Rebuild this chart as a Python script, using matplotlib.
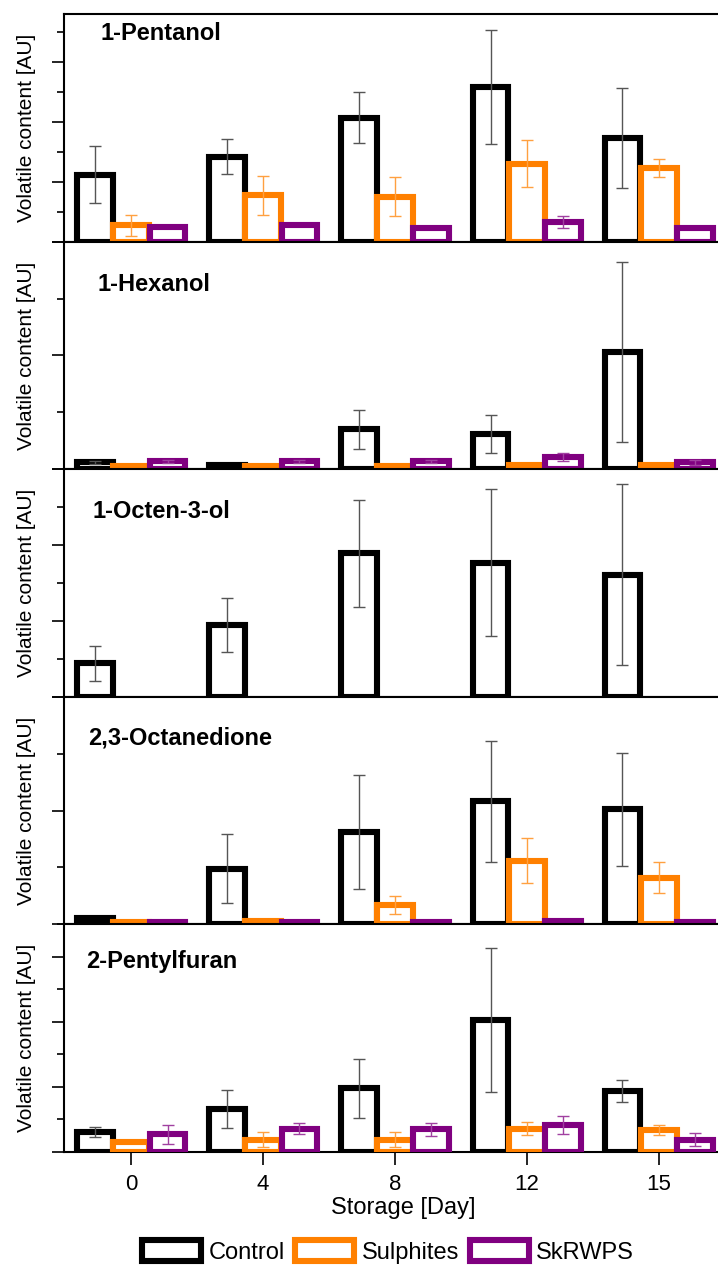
import numpy as np
import matplotlib.pyplot as plt
from matplotlib.ticker import MultipleLocator, FixedLocator

plt.rcParams['font.family'] = ['Liberation Sans', 'DejaVu Sans']

days = ["0", "4", "8", "12", "15"]
treatments = ["Control", "Sulphites", "SkRWPS"]
compounds = ["1-Pentanol", "1-Hexanol", "1-Octen-3-ol", "2,3-Octanedione", "2-Pentylfuran"]

# values in arbitrary units (one major y tick = 1), rows: Control, Sulphites, SkRWPS
pentanol_mean = [[1.12, 1.42, 2.07, 2.58, 1.73],
                 [0.27, 0.77, 0.75, 1.30, 1.23],
                 [0.25, 0.27, 0.22, 0.33, 0.22]]
pentanol_err = [[0.48, 0.29, 0.42, 0.95, 0.83],
                [0.17, 0.33, 0.33, 0.39, 0.15],
                [0.0, 0.0, 0.0, 0.10, 0.0]]

hexanol_mean = [[0.06, 0.035, 0.35, 0.31, 1.03],
                [0.025, 0.025, 0.025, 0.04, 0.035],
                [0.07, 0.07, 0.07, 0.11, 0.06]]
hexanol_err = [[0.01, 0.0, 0.17, 0.17, 0.79],
               [0.0, 0.0, 0.0, 0.0, 0.0],
               [0.015, 0.015, 0.015, 0.035, 0.02]]

octenol_mean = [[0.44, 0.95, 1.89, 1.77, 1.61],
                [np.nan] * 5,
                [np.nan] * 5]
octenol_err = [[0.23, 0.355, 0.71, 0.97, 1.19],
               [np.nan] * 5,
               [np.nan] * 5]

octanedione_mean = [[0.06, 0.49, 0.81, 1.08, 1.01],
                    [0.02, 0.03, 0.17, 0.56, 0.41],
                    [0.02, 0.02, 0.02, 0.03, 0.02]]
octanedione_err = [[0.0, 0.30, 0.50, 0.53, 0.50],
                   [0.0, 0.0, 0.08, 0.20, 0.135],
                   [0.0, 0.0, 0.0, 0.0, 0.0]]

pentylfuran_mean = [[0.31, 0.66, 0.98, 2.03, 0.94],
                    [0.16, 0.19, 0.19, 0.36, 0.34],
                    [0.27, 0.36, 0.35, 0.42, 0.19]]
pentylfuran_err = [[0.08, 0.29, 0.45, 1.10, 0.17],
                   [0.0, 0.115, 0.115, 0.10, 0.08],
                   [0.14, 0.09, 0.10, 0.14, 0.10]]

means = [pentanol_mean, hexanol_mean, octenol_mean, octanedione_mean, pentylfuran_mean]
errs = [pentanol_err, hexanol_err, octenol_err, octanedione_err, pentylfuran_err]
ytops = [3.8, 2.0, 3.0, 2.0, 3.5]

# style
edge_colors = ["#000000", "#FF8000", "#800080"]
err_colors = ["#555555", "#FFA040", "#A040A0"]
offsets = [-0.275, 0.0, 0.275]
bar_w = 0.27
label_pos = [(0.055, 0.915), (0.05, 0.81), (0.043, 0.815), (0.036, 0.82), (0.034, 0.835)]

fig = plt.figure(figsize=(7.18, 12.65), dpi=100)
gs = fig.add_gridspec(5, 1, left=64 / 718, right=726 / 718, top=1 - 14 / 1265,
                      bottom=1 - 1152 / 1265, hspace=0)

x = np.arange(len(days))
axes = []
for i, name in enumerate(compounds):
    ax = fig.add_subplot(gs[i])
    axes.append(ax)
    for j in range(3):
        m = np.array(means[i][j], dtype=float)
        e = np.array(errs[i][j], dtype=float)
        ok = ~np.isnan(m)
        if not ok.any():
            continue
        ax.bar(x[ok] + offsets[j], m[ok], width=bar_w, facecolor="white",
               edgecolor=edge_colors[j], linewidth=4.4, label=treatments[j], zorder=2 + j)
        show = ok & (e > 0)
        ax.errorbar(x[show] + offsets[j], m[show], yerr=e[show], fmt="none",
                    ecolor=err_colors[j], elinewidth=1, capsize=4.3, capthick=1, zorder=6)

    ax.set_xlim(-0.51, 4.51)
    ax.set_ylim(0, ytops[i])
    ax.yaxis.set_major_locator(MultipleLocator(1))
    ax.yaxis.set_minor_locator(MultipleLocator(0.5))
    ax.set_yticklabels([])
    ax.tick_params(axis="y", which="major", direction="out", length=9, width=1.2)
    ax.tick_params(axis="y", which="minor", direction="out", length=5, width=1.2)
    if i == 0:
        ax.xaxis.set_major_locator(FixedLocator([0, 1.75, 3.5]))
    else:
        ax.set_xticks(x)
    ax.tick_params(axis="x", direction="out", length=9, width=1.2, labelsize=16, pad=7)
    if i < len(compounds) - 1:
        ax.set_xticklabels([])
    else:
        ax.set_xticklabels(days)
    ax.spines["right"].set_visible(False)
    for s in ["left", "top", "bottom"]:
        ax.spines[s].set_linewidth(1.5)
    ax.text(label_pos[i][0], label_pos[i][1], name, transform=ax.transAxes,
            fontsize=17, fontweight="bold", va="center", ha="left")
    ax.set_ylabel("Volatile content [AU]", fontsize=15)
    ax.yaxis.set_label_coords(-0.043, 0.5)

axes[-1].set_xlabel("Storage [Day]", fontsize=17)
axes[-1].xaxis.set_label_coords(0.512, -0.197)

handles, labels = axes[-1].get_legend_handles_labels()
fig.legend(handles, labels, loc="center", bbox_to_anchor=(388 / 718, 1 - 1252 / 1265),
           ncol=3, frameon=False, fontsize=17, handlelength=2.5, handleheight=0.95,
           handletextpad=0.3, columnspacing=0.45, borderaxespad=0)

fig.savefig("out.png", dpi=100)
